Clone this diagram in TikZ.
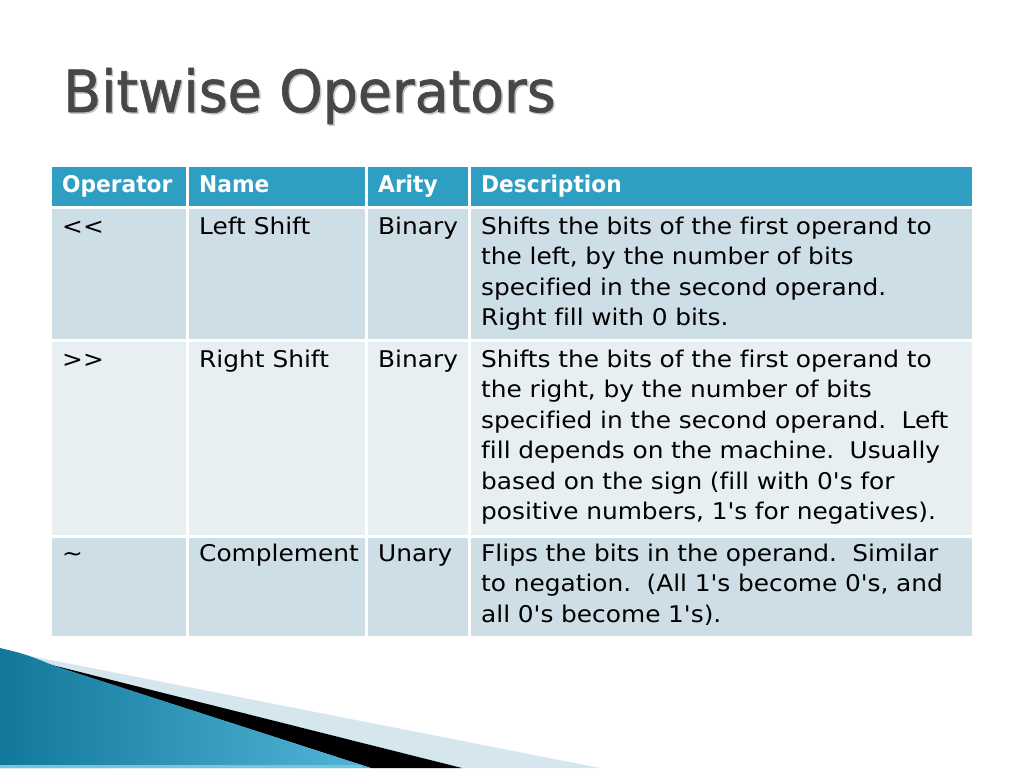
\documentclass[tikz,border=0pt]{standalone}
\usepackage{fontspec}
\newfontfamily\slidefont{DejaVu Sans}[FakeStretch=1.08, Ligatures=NoCommon]
\newfontfamily\headfont{DejaVu Sans Condensed}[FakeStretch=1.05, Ligatures=NoCommon]
\newfontfamily\titlefont{DejaVu Sans Condensed}[FakeStretch=1.06, FakeBold=1.2]
\usetikzlibrary{calc}
\definecolor{headteal}{HTML}{2E9FC2}
\definecolor{rowdark}{HTML}{CEDEE6}
\definecolor{rowlight}{HTML}{E8EFF3}
\definecolor{titlegray}{HTML}{474747}
\definecolor{wedgeblue}{HTML}{D5E6EE}
\definecolor{tealdark}{HTML}{12789A}
\definecolor{teallight}{HTML}{52B6D8}

\tikzset{
  cell/.style={anchor=base west, inner sep=0pt, text=black,
    font=\slidefont\fontsize{23}{30.5}\selectfont},
  headcell/.style={cell, text=white, font=\headfont\bfseries\fontsize{23}{30.5}\selectfont},
  desc/.style={cell, text width=485pt, align=left},
  gridline/.style={white, line width=3pt},
}

\begin{document}
\begin{tikzpicture}[x=1pt,y=-1pt]
      \useasboundingbox (0,0) rectangle (1024,768);

      % title
      \node[anchor=base west, inner sep=0pt, text=black!22, font=\titlefont\fontsize{58}{60}\selectfont]
        at (64.5,113.5) {Bitwise Operators};
      \node[anchor=base west, inner sep=0pt, text=titlegray, font=\titlefont\fontsize{58}{60}\selectfont]
        (title) at (63,112) {Bitwise Operators};

      % table background
      \fill[headteal] (52,167) rectangle (972,207);
      \fill[rowdark] (52,207) rectangle (972,340);
      \fill[rowlight] (52,340) rectangle (972,536);
      \fill[rowdark] (52,536) rectangle (972,636);
      \foreach \y in {207,340,536}
        \draw[gridline] (52,\y) -- (972,\y);
      \foreach \x in {187,366,469}
        \draw[gridline] (\x,167) -- (\x,636);

      % header
      \node[headcell] (h-op) at (62,192) {Operator};
      \node[headcell] (h-name) at (199,192) {Name};
      \node[headcell] (h-arity) at (378,192) {Arity};
      \node[headcell] (h-desc) at (481,192) {Description};

      % left shift
      \node[cell] (lsh-op) at (62,234) {<<};
      \node[cell] (lsh-name) at (199,234) {Left Shift};
      \node[cell] (lsh-arity) at (378,234) {Binary};
      \node[desc] (lsh-desc) at (481,234) {Shifts the bits of the first operand to\\
        the left, by the number of bits\\
        specified in the second operand.\\
        Right fill with 0 bits.};

      % right shift
      \node[cell] (rsh-op) at (62,367) {>>};
      \node[cell] (rsh-name) at (199,367) {Right Shift};
      \node[cell] (rsh-arity) at (378,367) {Binary};
      \node[desc] (rsh-desc) at (481,367) {Shifts the bits of the first operand to\\
        the right, by the number of bits\\
        specified in the second operand.\ \ Left\\
        fill depends on the machine.\ \ Usually\\
        based on the sign (fill with 0's for\\
        positive numbers, 1's for negatives).};

      % complement
      \node[cell] (cpl-op) at (62,561) {\textasciitilde};
      \node[cell] (cpl-name) at (199,561) {Complement};
      \node[cell] (cpl-arity) at (378,561) {Unary};
      \node[desc] (cpl-desc) at (481,561) {Flips the bits in the operand.\ \ Similar\\
        to negation.\ \ (All 1's become 0's, and\\
        all 0's become 1's).};

      % corner wedge
      \fill[wedgeblue] (0,650) -- (600,768) -- (0,768) -- cycle;
      \fill[black] (48,664) -- (462,768) -- (371,768) -- cycle;
      \shade[left color=tealdark, right color=teallight]
        (0,648) .. controls (25,654) .. (55,666) -- (371,768) -- (0,768) -- cycle;
      \fill[teallight!80!white] (0,765) rectangle (362,768);
\end{tikzpicture}
\end{document}
